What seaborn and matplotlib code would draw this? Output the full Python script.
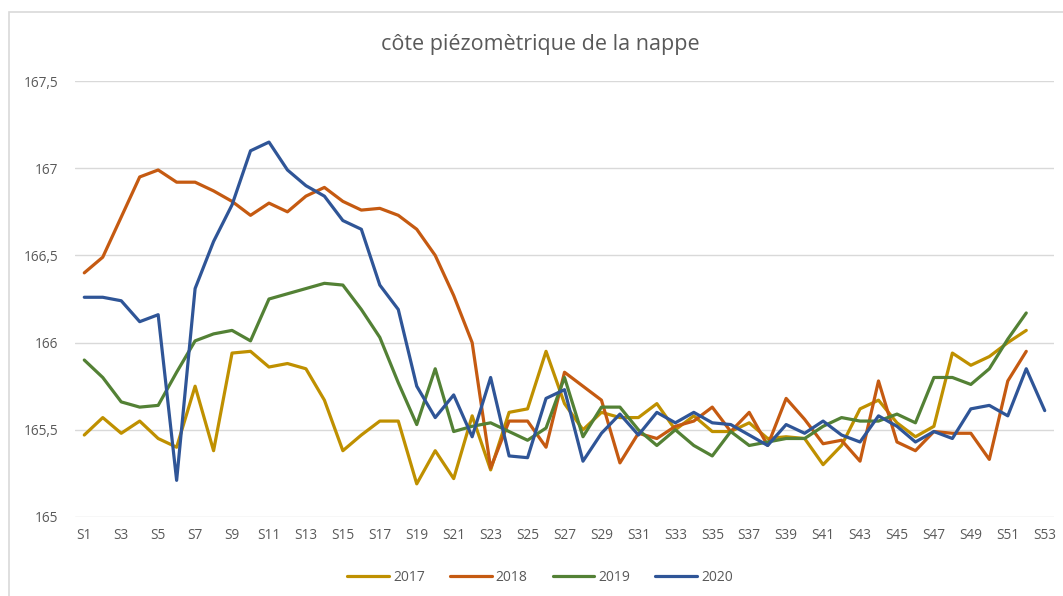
import numpy as np
import pandas as pd
import matplotlib
matplotlib.use("Agg")
import matplotlib.pyplot as plt
import seaborn as sns

# weekly piezometric level, S1..S53
weeks = [f"S{i}" for i in range(1, 54)]

y2017 = [165.47, 165.57, 165.48, 165.55, 165.45, 165.40, 165.75, 165.38, 165.94, 165.95,
         165.86, 165.88, 165.85, 165.67, 165.38, 165.47, 165.55, 165.55, 165.19, 165.38,
         165.22, 165.58, 165.27, 165.60, 165.62, 165.95, 165.65, 165.50, 165.60, 165.57,
         165.57, 165.65, 165.50, 165.58, 165.49, 165.49, 165.54, 165.45, 165.46, 165.45,
         165.30, 165.41, 165.62, 165.67, 165.54, 165.46, 165.52, 165.94, 165.87, 165.92,
         166.00, 166.07]
y2018 = [166.40, 166.49, 166.72, 166.95, 166.99, 166.92, 166.92, 166.87, 166.81, 166.73,
         166.80, 166.75, 166.84, 166.89, 166.81, 166.76, 166.77, 166.73, 166.65, 166.50,
         166.27, 166.00, 165.28, 165.55, 165.55, 165.40, 165.83, 165.75, 165.67, 165.31,
         165.48, 165.45, 165.52, 165.55, 165.63, 165.49, 165.60, 165.41, 165.68, 165.56,
         165.42, 165.44, 165.32, 165.78, 165.43, 165.38, 165.49, 165.48, 165.48, 165.33,
         165.78, 165.95]
y2019 = [165.90, 165.80, 165.66, 165.63, 165.64, 165.83, 166.01, 166.05, 166.07, 166.01,
         166.25, 166.28, 166.31, 166.34, 166.33, 166.19, 166.03, 165.77, 165.53, 165.85,
         165.49, 165.52, 165.54, 165.49, 165.44, 165.51, 165.80, 165.46, 165.63, 165.63,
         165.50, 165.41, 165.50, 165.41, 165.35, 165.49, 165.41, 165.43, 165.45, 165.45,
         165.52, 165.57, 165.55, 165.55, 165.59, 165.54, 165.80, 165.80, 165.76, 165.85,
         166.02, 166.17]
y2020 = [166.26, 166.26, 166.24, 166.12, 166.16, 165.21, 166.31, 166.58, 166.79, 167.10,
         167.15, 166.99, 166.90, 166.84, 166.70, 166.65, 166.33, 166.19, 165.75, 165.57,
         165.70, 165.46, 165.80, 165.35, 165.34, 165.68, 165.73, 165.32, 165.48, 165.59,
         165.47, 165.60, 165.54, 165.60, 165.54, 165.53, 165.47, 165.41, 165.53, 165.48,
         165.55, 165.47, 165.43, 165.58, 165.52, 165.43, 165.49, 165.45, 165.62, 165.64,
         165.58, 165.85, 165.61]

years = ["2017", "2018", "2019", "2020"]
colors = ["#BF9000", "#C55A11", "#538135", "#2F5597"]

frames = []
for year, vals in zip(years, [y2017, y2018, y2019, y2020]):
    frames.append(pd.DataFrame({"idx": range(len(vals)), "niveau": vals, "annee": year}))
df = pd.concat(frames, ignore_index=True)

sns.set_style("white")
plt.rcParams["font.family"] = ["Open Sans", "DejaVu Sans"]

fig = plt.figure(figsize=(10.63, 5.96), dpi=100)
ax = fig.add_axes([0.0706, 0.1326, 0.9209, 0.7314])

sns.lineplot(data=df, x="idx", y="niveau", hue="annee", palette=colors,
             linewidth=2.3, sort=False, ax=ax)

ax.set_xlim(-0.5, 52.5)
ax.set_ylim(165, 167.5)
ax.set_yticks([165, 165.5, 166, 166.5, 167, 167.5])
ax.set_yticklabels(["165", "165,5", "166", "166,5", "167", "167,5"])
ax.set_xticks(range(0, 53, 2))
ax.set_xticklabels(weeks[::2])
ax.grid(axis="y", color="#D9D9D9", linewidth=1)
ax.set_axisbelow(True)
for s in ax.spines.values():
    s.set_visible(False)
ax.tick_params(axis="both", length=0, labelsize=9.8, labelcolor="#595959")
ax.tick_params(axis="y", pad=12)
ax.tick_params(axis="x", pad=8)
ax.set_xlabel("")
ax.set_ylabel("")

fig.text(0.508, 0.926, "côte piézomètrique de la nappe", ha="center", va="center",
         fontsize=15.5, color="#595959")

handles, labels = ax.get_legend_handles_labels()
ax.legend(handles, labels, loc="center", bbox_to_anchor=(0.508, 0.031),
          bbox_transform=fig.transFigure, ncol=4, frameon=False, fontsize=10,
          handlelength=3.0, handletextpad=0.3, columnspacing=1.8, labelcolor="#595959")

# light chart border
border = plt.Rectangle((9 / 1063, -0.01), 1.1, 1 - 12 / 596 + 0.01, transform=fig.transFigure,
                       fill=False, edgecolor="#D9D9D9", linewidth=1.2)
fig.add_artist(border)

fig.savefig("out.png", dpi=100)
